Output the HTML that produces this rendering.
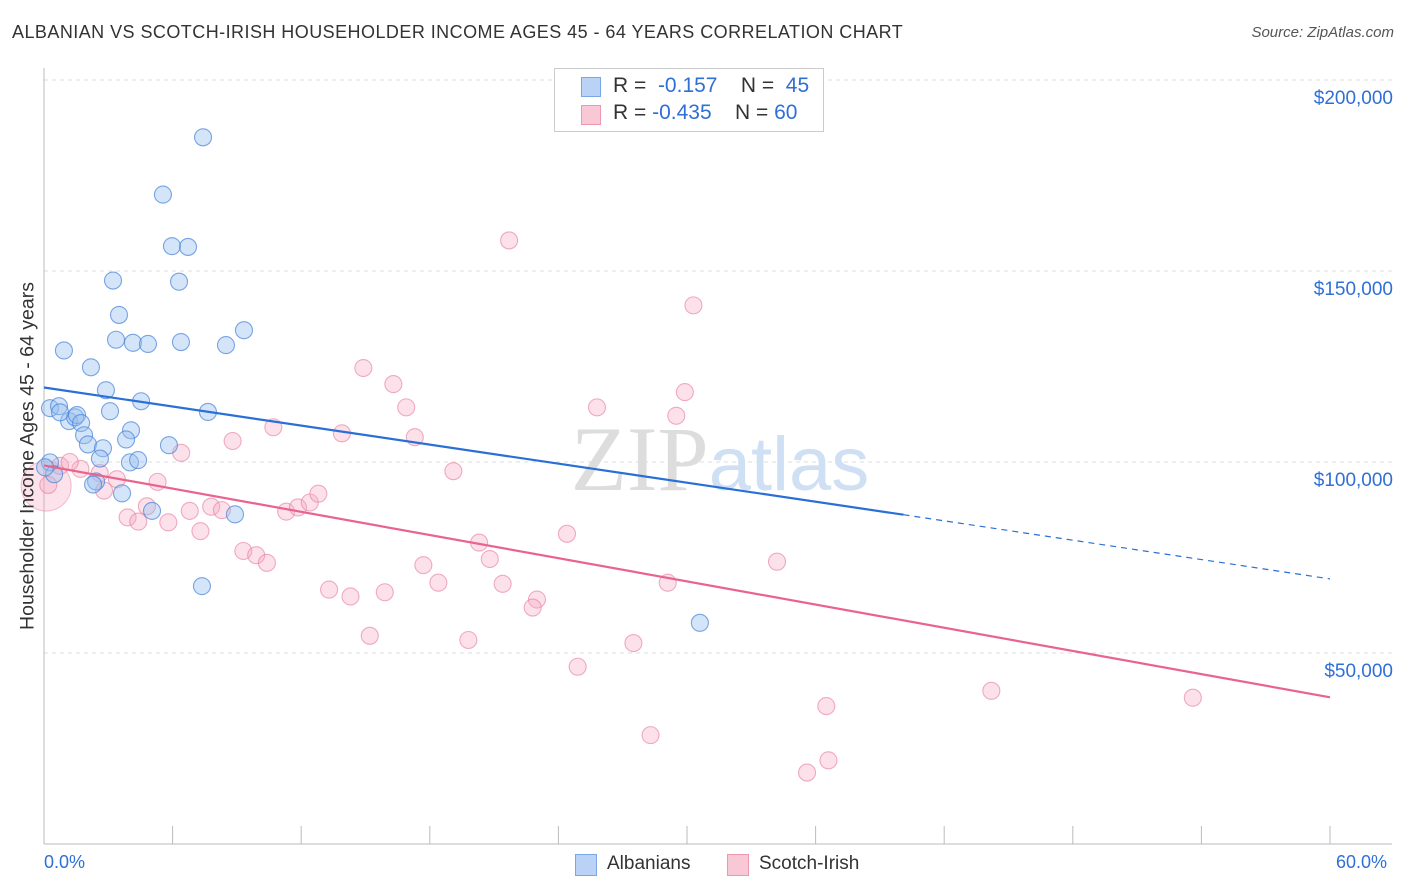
<!DOCTYPE html>
<html><head><meta charset="utf-8"><style>
body{margin:0;background:#fff;font-family:"Liberation Sans",sans-serif;}
#wrap{position:relative;width:1406px;height:892px;overflow:hidden;}
.t{position:absolute;white-space:nowrap;}
</style></head><body>
<div id="wrap">
<div class="t" style="left:12px;top:22px;font-size:18px;color:#333;letter-spacing:0.45px">ALBANIAN VS SCOTCH-IRISH HOUSEHOLDER INCOME AGES 45 - 64 YEARS CORRELATION CHART</div>
<div class="t" style="right:12px;top:24px;font-size:15px;color:#555;font-style:italic">Source: ZipAtlas.com</div>
<svg id="svg" width="1406" height="892" style="position:absolute;left:0;top:0"></svg>
<div style="position:absolute;left:554px;top:68px;width:268px;height:62px;border:1px solid #ccc;background:#fff">
 <div style="position:absolute;left:26px;top:8px;width:18px;height:18px;background:#b9d2f5;border:1px solid #7aa6e6"></div>
 <div class="t" style="left:58px;top:5px;font-size:21px;color:#333">R = &nbsp;<span style="color:#2f6fd6">-0.157</span>&nbsp;&nbsp;&nbsp; N = &nbsp;<span style="color:#2f6fd6">45</span></div>
 <div style="position:absolute;left:26px;top:36px;width:18px;height:18px;background:#f8c8d6;border:1px solid #ec99b0"></div>
 <div class="t" style="left:58px;top:32px;font-size:21px;color:#333">R = <span style="color:#2f6fd6">-0.435</span>&nbsp;&nbsp;&nbsp; N = <span style="color:#2f6fd6">60</span></div>
</div>
<div class="t" style="top:456px;font-size:19.5px;color:#333;transform:translate(-50%,-50%) rotate(-90deg);left:28px">Householder Income Ages 45 - 64 years</div>
<div class="t" style="left:44px;top:852px;font-size:18px;color:#2f6fd6">0.0%</div>
<div class="t" style="left:1336px;top:852px;font-size:18px;color:#2f6fd6">60.0%</div>
<div style="position:absolute;left:575px;top:854px;width:20px;height:20px;background:#b9d2f5;border:1px solid #7aa6e6"></div>
<div class="t" style="left:607px;top:853px;font-size:19px;color:#333">Albanians</div>
<div style="position:absolute;left:727px;top:854px;width:20px;height:20px;background:#f8c8d6;border:1px solid #ec99b0"></div>
<div class="t" style="left:759px;top:853px;font-size:19px;color:#333">Scotch-Irish</div>
</div>
<script>
const yTicks=[50000,100000,150000,200000];
const yTickLabels=["$50,000","$100,000","$150,000","$200,000"];
const blueX=[7.42,5.55,5.97,6.72,3.22,6.30,3.50,0.93,3.36,4.15,4.85,6.39,8.49,9.33,2.19,2.89,4.53,0.28,0.70,3.08,7.65,1.17,1.45,1.54,1.73,1.87,2.05,4.06,3.83,5.83,2.75,2.61,4.01,4.39,0.28,0.47,2.43,2.29,3.64,5.04,8.91,7.37,30.6,0.05,0.75];
const blueY=[185000,170000,156500,156300,147500,147200,138500,129200,132000,131200,130900,131400,130600,134500,124800,118800,115900,114100,114600,113300,113100,110700,111700,112300,110200,107000,104600,108300,105900,104400,103600,100900,99900,100500,99900,96800,94900,94100,91800,87200,86300,67500,57900,98600,113000];
const pinkX=[21.7,30.3,14.9,16.3,29.9,25.8,16.9,29.5,10.7,13.9,17.3,8.8,6.4,19.1,0.75,1.7,2.6,3.4,2.8,5.3,4.8,3.9,4.4,5.8,6.8,7.8,8.3,7.3,11.3,11.85,12.4,12.8,24.4,20.3,9.3,9.9,10.4,17.7,20.8,18.4,21.4,34.2,29.1,13.3,14.3,15.9,23.0,22.8,15.2,19.8,27.5,24.9,44.2,53.6,36.5,28.3,36.6,35.6,0.2,1.2];
const pinkY=[158000,141000,124600,120400,118300,114300,114300,112100,109100,107500,106500,105500,102400,97600,99000,98200,97100,95500,92500,94800,88400,85500,84400,84200,87200,88300,87400,81900,87000,88100,89400,91700,81200,78900,76700,75600,73600,73000,74600,68400,68100,73900,68400,66600,64800,65900,64000,61900,54500,53400,52600,46400,40100,38300,36100,28500,21900,18700,94000,100000];
const bigPink={x:0.1,y:93700,r:25};
const blueTrend=[[0,119500],[40.1,86200]];
const blueDash=[[40.1,86200],[60,69400]];
const pinkTrend=[[0,99100],[60,38400]];

const X0=44,X1=1330,Y0=844;
const sx=v=>X0+(X1-X0)*v/60;
const sy=v=>Y0-v*191/50000;
const svg=document.getElementById('svg');
const NS='http://www.w3.org/2000/svg';
function mk(t,a){const e=document.createElementNS(NS,t);for(const k in a)e.setAttribute(k,a[k]);svg.appendChild(e);return e;}
yTicks.forEach((v,i)=>{
 const g=mk('line',{x1:X0,x2:1392,y1:sy(v),y2:sy(v),stroke:'#ddd','stroke-dasharray':'4,4'});
 
 
 const t=mk('text',{x:1393,y:sy(v)+24,'text-anchor':'end','font-size':19,fill:'#2f6fd6','font-family':'Liberation Sans, sans-serif'});
 t.textContent=yTickLabels[i];
 
 
});
let a=mk('line',{x1:X0,x2:X0,y1:68,y2:Y0,stroke:'#bbb'});


a=mk('line',{x1:X0,x2:1392,y1:Y0,y2:Y0,stroke:'#bbb'});


for(let i=0;i<=10;i++){const tk=mk('line',{x1:sx(i*6),x2:sx(i*6),y1:826,y2:Y0,stroke:'#bbb'});
 
 }
const wm=mk('text',{x:720,y:490,'text-anchor':'middle','font-size':92,fill:'#ddd','font-family':'Liberation Serif, serif'});
wm.innerHTML='ZIP<tspan font-family="Liberation Sans, sans-serif" font-size="76" fill="#cfe0f5">atlas</tspan>';


const bp=mk('circle',{cx:sx(bigPink.x),cy:sy(bigPink.y),r:bigPink.r,fill:'rgba(245,160,185,0.3)',stroke:'rgba(235,130,160,0.5)'});


pinkX.forEach((x,i)=>{const c=mk('circle',{cx:sx(x),cy:sy(pinkY[i]),r:8.5,fill:'rgba(245,170,195,0.35)',stroke:'rgba(232,130,160,0.65)','stroke-width':1.1});
 
 });
blueX.forEach((x,i)=>{const c=mk('circle',{cx:sx(x),cy:sy(blueY[i]),r:8.5,fill:'rgba(150,190,240,0.4)',stroke:'rgba(70,130,215,0.7)','stroke-width':1.1});
 
 });
let l=mk('line',{x1:sx(blueTrend[0][0]),y1:sy(blueTrend[0][1]),x2:sx(blueTrend[1][0]),y2:sy(blueTrend[1][1]),stroke:'#2a6fd6','stroke-width':2.2});


l=mk('line',{x1:sx(blueDash[0][0]),y1:sy(blueDash[0][1]),x2:sx(blueDash[1][0]),y2:sy(blueDash[1][1]),stroke:'#2a6fd6','stroke-width':1.2,'stroke-dasharray':'6,5'});


l=mk('line',{x1:sx(pinkTrend[0][0]),y1:sy(pinkTrend[0][1]),x2:sx(pinkTrend[1][0]),y2:sy(pinkTrend[1][1]),stroke:'#e8648f','stroke-width':2.2});


</script>
</body></html>
